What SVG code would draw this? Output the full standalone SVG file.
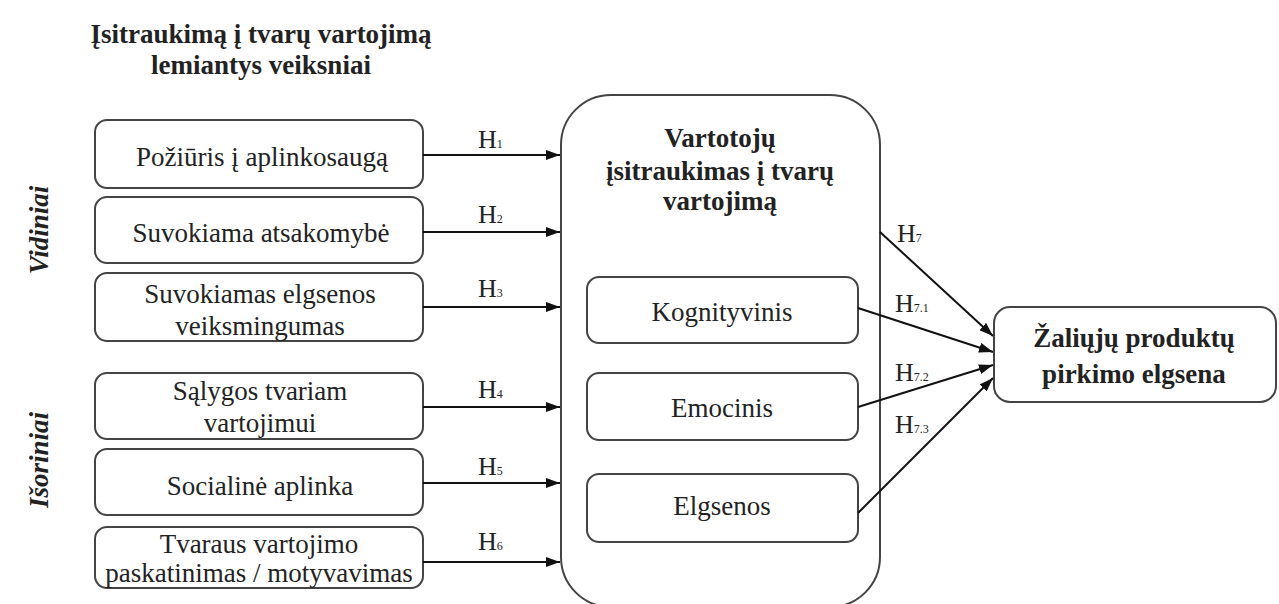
<svg xmlns="http://www.w3.org/2000/svg" width="1279" height="604" viewBox="0 0 1279 604">
<style>
.box{fill:#fff;stroke:#444;stroke-width:2}
.t{font-family:'Liberation Serif','Times New Roman','DejaVu Serif',serif;font-size:27px;fill:#222;text-anchor:middle}
.b{font-weight:bold}
.h{font-family:'Liberation Serif','Times New Roman','DejaVu Serif',serif;font-size:26px;fill:#222}
.s{font-size:12px}
.c{stroke:#111;stroke-width:2;fill:none;marker-end:url(#ah)}
</style>
<defs>
<marker id="ah" viewBox="0 0 14 10" refX="14" refY="5" markerWidth="14" markerHeight="10" markerUnits="userSpaceOnUse" orient="auto">
<path d="M0,0 L14,5 L0,10 z" fill="#111"/>
</marker>
</defs>
<rect width="1279" height="604" fill="#fff"/>
<g id="title">
<text class="t b" x="261" y="43">Įsitraukimą į tvarų vartojimą</text>
<text class="t b" x="261" y="74">lemiantys veiksniai</text>
</g>
<g id="vidiniai"><text class="t b" font-style="italic" transform="translate(48,230) rotate(-90)">Vidiniai</text></g>
<g id="isoriniai"><text class="t b" font-style="italic" transform="translate(48,460) rotate(-90)">Išoriniai</text></g>
<g id="n1"><rect class="box" x="95" y="120" width="328" height="68" rx="12"/><text class="t" x="262" y="166">Požiūris į aplinkosaugą</text></g>
<g id="n2"><rect class="box" x="95" y="197" width="328" height="66" rx="12"/><text class="t" x="261" y="242">Suvokiama atsakomybė</text></g>
<g id="n3"><rect class="box" x="95" y="273" width="328" height="68" rx="12"/><text class="t" x="260" y="303">Suvokiamas elgsenos</text><text class="t" x="260" y="335">veiksmingumas</text></g>
<g id="n4"><rect class="box" x="95" y="373" width="328" height="66" rx="12"/><text class="t" x="260" y="400">Sąlygos tvariam</text><text class="t" x="260" y="432">vartojimui</text></g>
<g id="n5"><rect class="box" x="95" y="449" width="328" height="66" rx="12"/><text class="t" x="260" y="495">Socialinė aplinka</text></g>
<g id="n6"><rect class="box" x="95" y="527" width="328" height="61" rx="12"/><text class="t" x="259" y="553">Tvaraus vartojimo</text><text class="t" x="259" y="582">paskatinimas / motyvavimas</text></g>
<g id="center">
<rect class="box" x="561" y="95" width="319" height="512" rx="50"/>
<text class="t b" x="720" y="147">Vartotojų</text>
<text class="t b" x="720" y="180">įsitraukimas į tvarų</text>
<text class="t b" x="720" y="210">vartojimą</text>
</g>
<g id="kognityvinis"><rect class="box" x="587" y="277" width="271" height="66" rx="12"/><text class="t" x="722" y="321">Kognityvinis</text></g>
<g id="emocinis"><rect class="box" x="587" y="373" width="271" height="67" rx="12"/><text class="t" x="722" y="417">Emocinis</text></g>
<g id="elgsenos"><rect class="box" x="587" y="474" width="271" height="68" rx="12"/><text class="t" x="722" y="515">Elgsenos</text></g>
<g id="target"><rect class="box" x="994" y="307" width="282" height="95" rx="16"/>
<text class="t b" x="1134" y="347">Žaliųjų produktų</text>
<text class="t b" x="1134" y="383">pirkimo elgsena</text></g>
<g id="connectors">
<line class="c" x1="423" y1="155" x2="560" y2="155"/>
<line class="c" x1="423" y1="232" x2="560" y2="232"/>
<line class="c" x1="423" y1="307" x2="560" y2="307"/>
<line class="c" x1="423" y1="407" x2="560" y2="407"/>
<line class="c" x1="423" y1="483" x2="560" y2="483"/>
<line class="c" x1="423" y1="562" x2="560" y2="562"/>
<line class="c" x1="880" y1="232" x2="993" y2="336"/>
<line class="c" x1="858" y1="308" x2="993" y2="352"/>
<line class="c" x1="858" y1="407" x2="993" y2="365"/>
<line class="c" x1="858" y1="513" x2="993" y2="378"/>
<g id="labels">
<text class="h" x="478" y="148">H<tspan class="s">1</tspan></text>
<text class="h" x="478" y="223">H<tspan class="s">2</tspan></text>
<text class="h" x="478" y="297">H<tspan class="s">3</tspan></text>
<text class="h" x="478" y="398">H<tspan class="s">4</tspan></text>
<text class="h" x="478" y="475">H<tspan class="s">5</tspan></text>
<text class="h" x="478" y="550">H<tspan class="s">6</tspan></text>
<text class="h" x="897" y="242">H<tspan class="s">7</tspan></text>
<text class="h" x="895" y="312">H<tspan class="s">7.1</tspan></text>
<text class="h" x="895" y="381">H<tspan class="s">7.2</tspan></text>
<text class="h" x="895" y="433">H<tspan class="s">7.3</tspan></text>
</g>
</g>
</svg>
